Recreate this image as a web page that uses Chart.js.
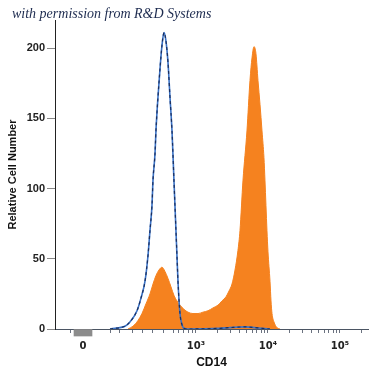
<!DOCTYPE html>
<html>
<head>
<meta charset="utf-8">
<script src="https://cdn.jsdelivr.net/npm/chart.js@4"></script>
<style>
  body { margin: 0; background: #fff; }
  #wrap { position: relative; width: 375px; height: 375px; }
  #note { position: absolute; left: 12px; top: 6px; font: italic 14px "Liberation Serif", "DejaVu Serif", serif; color: #1d2b4f; }
</style>
</head>
<body>
<div id="wrap">
  <canvas id="myChart" width="375" height="375"></canvas>
  <div id="note">with permission from R&amp;D Systems</div>
</div>
<script>
// x values are positions on the biexponential display axis, in decades (10^3 -> 3)
const cd14X = [2.056, 2.125, 2.194, 2.250, 2.306, 2.361, 2.403, 2.444, 2.486, 2.528, 2.569, 2.611, 2.653, 2.694, 2.736, 2.778, 2.833, 2.889, 2.958, 3.028, 3.097, 3.167, 3.236, 3.306, 3.361, 3.417, 3.458, 3.500, 3.542, 3.583, 3.611, 3.653, 3.708, 3.750, 3.778, 3.806, 3.833, 3.861, 3.889, 3.917, 3.944, 3.958, 3.986, 4.000, 4.028, 4.042, 4.056, 4.083, 4.125, 4.167];
const cd14Count = [0, 2, 6, 11, 18, 25, 32, 38, 42, 44, 41, 36, 30, 24, 20, 17, 14, 12, 11, 11, 12, 13, 15, 17, 20, 23, 27, 32, 42, 56, 70, 106, 141, 177, 193, 201, 196, 177, 160, 141, 122, 106, 70, 55, 34, 20, 11, 5, 1, 0];

const isoX = [1.806, 1.875, 1.944, 2.014, 2.083, 2.181, 2.236, 2.292, 2.333, 2.361, 2.389, 2.403, 2.431, 2.444, 2.472, 2.500, 2.528, 2.556, 2.583, 2.611, 2.639, 2.667, 2.694, 2.708, 2.722, 2.736, 2.750, 2.778, 2.806, 2.833, 2.889, 3.333, 3.472, 3.681, 3.819, 3.917, 4.028];
const isoCount = [0, 0.5, 1, 2, 5, 13, 22, 34, 52, 70, 88, 106, 125, 141, 165, 185, 202, 211, 205, 190, 165, 141, 106, 88, 70, 52, 34, 11, 3, 0.5, 0, 0.5, 1, 1.5, 1, 0.5, 0];

// events piled at zero, drawn as a small grey block under the axis
const zeroPileX = [1.431];
const zeroPile = [[-5, 0]];

const xMajor = [1.431, 3, 4, 5];
const xMajorLabels = ['0', '10³', '10⁴', '10⁵'];
const xMinor = [1.264, 1.333, 1.431, 1.806, 1.944, 2.125, 2.264, 2.403, 2.542, 2.681, 2.764, 2.833, 2.903, 2.958, 3.301, 3.477, 3.602, 3.699, 3.778, 3.845, 3.903, 3.954, 4.301, 4.477, 4.602, 4.699, 4.778, 4.845, 4.903, 4.954, 5.301];
const yTicks = [0, 50, 100, 150, 200];

const pts = (xs, ys) => xs.map((x, i) => ({x: x, y: ys[i]}));

const ctx = document.getElementById('myChart');
new Chart(ctx, {
  type: 'line',
  data: {
    datasets: [
      {
        label: 'isotype dash',
        data: pts(isoX, isoCount),
        borderColor: '#1b2f5e',
        borderWidth: 1.2,
        borderDash: [3, 3],
        pointRadius: 0,
        fill: false,
        cubicInterpolationMode: 'monotone',
        order: 0
      },
      {
        label: 'isotype',
        data: pts(isoX, isoCount),
        borderColor: '#3a72c6',
        borderWidth: 1.6,
        pointRadius: 0,
        fill: false,
        cubicInterpolationMode: 'monotone',
        order: 1
      },
      {
        label: 'CD14',
        data: pts(cd14X, cd14Count),
        borderColor: '#f5821f',
        backgroundColor: '#f5821f',
        borderWidth: 1,
        pointRadius: 0,
        fill: 'origin',
        cubicInterpolationMode: 'monotone',
        order: 2
      },
      {
        type: 'bar',
        label: 'zero',
        data: pts(zeroPileX, zeroPile),
        backgroundColor: '#8c8c8c',
        barThickness: 18,
        clip: false,
        order: 3
      }
    ]
  },
  options: {
    responsive: false,
    animation: false,
    layout: { padding: { top: 20, right: 7, bottom: 5, left: 0 } },
    plugins: { legend: { display: false }, tooltip: { enabled: false } },
    scales: {
      x: {
        type: 'linear',
        min: 1.042,
        max: 5.389,
        offset: false,
        afterBuildTicks: s => { s.ticks = xMinor.concat(xMajor.slice(1)).sort((a, b) => a - b).map(v => ({value: v})); },
        afterFit: s => { s.height = 41; },
        border: { color: '#4b5563', width: 1 },
        grid: { drawOnChartArea: false, offset: false, color: '#6b7280', tickLength: 4 },
        ticks: {
          autoSkip: false,
          maxRotation: 0,
          padding: 7,
          color: '#222',
          font: { family: 'DejaVu Sans, sans-serif', size: 10, weight: 'bold' },
          callback: v => {
            const i = xMajor.findIndex(m => Math.abs(m - v) < 0.002);
            return i >= 0 ? xMajorLabels[i] : '';
          }
        },
        title: {
          display: true,
          text: 'CD14',
          color: '#111',
          padding: { top: 2, bottom: 0 },
          font: { family: 'Liberation Sans, Arial, sans-serif', size: 12, weight: 'bold' }
        }
      },
      y: {
        min: 0,
        max: 220,
        afterBuildTicks: s => { s.ticks = yTicks.map(v => ({value: v})); },
        afterFit: s => { s.width = 55; },
        border: { color: '#222', width: 1 },
        grid: { drawOnChartArea: false, color: '#888', tickLength: 8 },
        ticks: {
          padding: 2,
          color: '#222',
          font: { family: 'Liberation Sans, Arial, sans-serif', size: 11, weight: 'bold' }
        },
        title: {
          display: true,
          text: 'Relative Cell Number',
          color: '#111',
          padding: { top: 6, bottom: 0 },
          font: { family: 'Liberation Sans, Arial, sans-serif', size: 11, weight: 'bold' }
        }
      }
    }
  }
});
</script>
</body>
</html>
